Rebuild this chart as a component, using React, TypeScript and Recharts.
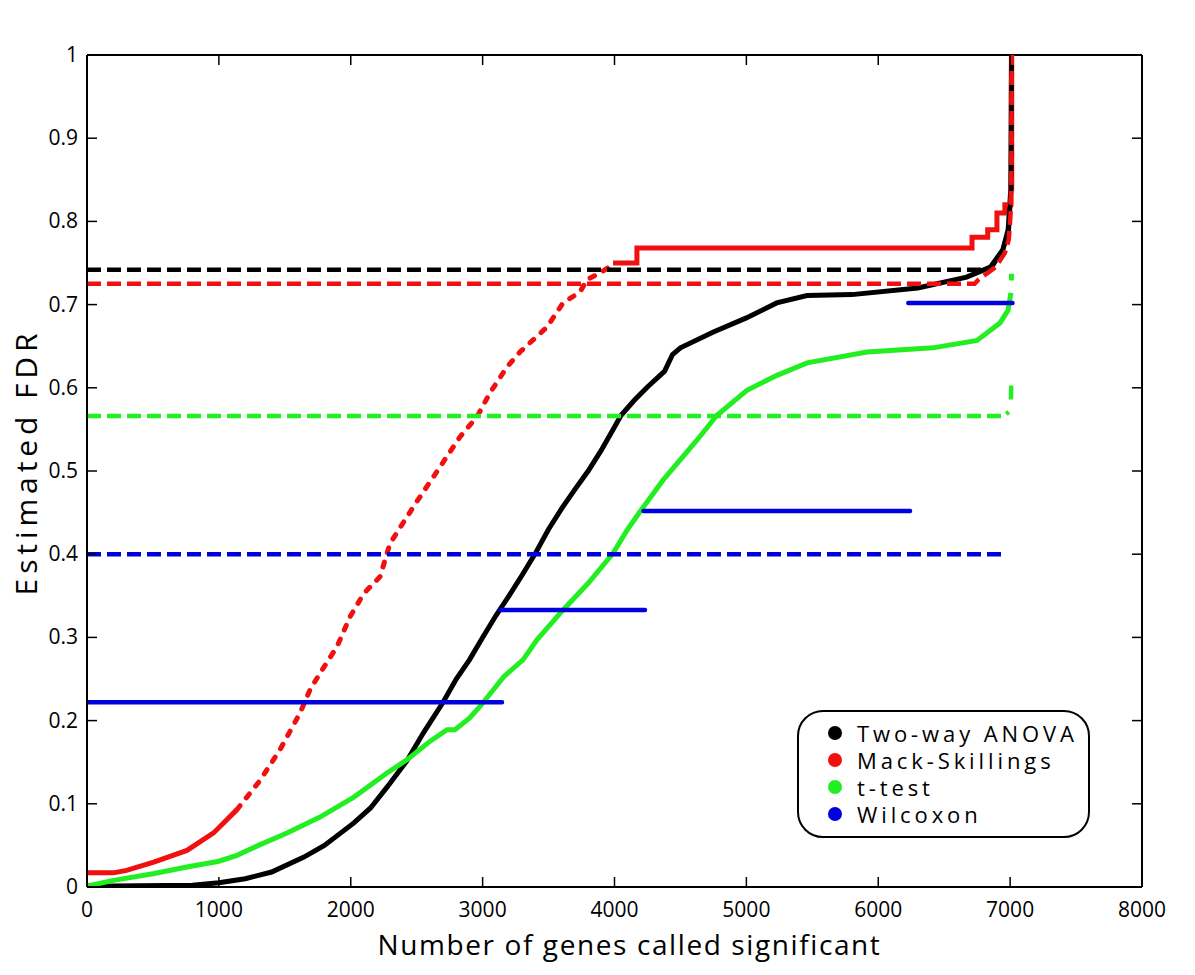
import React from 'react';
import { LineChart, Line, XAxis, YAxis, Label, ReferenceLine } from 'recharts';

const xTicks = [0, 1000, 2000, 3000, 4000, 5000, 6000, 7000, 8000];
const yTicks = [0, 0.1, 0.2, 0.3, 0.4, 0.5, 0.6, 0.7, 0.8, 0.9, 1];
const yTickLabels = ['0', '0.1', '0.2', '0.3', '0.4', '0.5', '0.6', '0.7', '0.8', '0.9', '1'];

const seriesNames = ['Two-way ANOVA', 'Mack-Skillings', 't-test', 'Wilcoxon'];
const seriesColors = ['#000000', '#f01010', '#22ee22', '#0000dd'];

const xLabel = 'Number of genes called significant';
const yLabel = 'Estimated FDR';

// Two-way ANOVA (solid estimate)
const anovaCurve = [
  { x: 0, y: 0.001 }, { x: 800, y: 0.002 }, { x: 1000, y: 0.005 }, { x: 1200, y: 0.01 },
  { x: 1400, y: 0.018 }, { x: 1645, y: 0.036 }, { x: 1800, y: 0.05 }, { x: 2024, y: 0.077 },
  { x: 2150, y: 0.095 }, { x: 2275, y: 0.12 }, { x: 2427, y: 0.152 }, { x: 2550, y: 0.185 },
  { x: 2700, y: 0.222 }, { x: 2800, y: 0.25 }, { x: 2900, y: 0.273 }, { x: 3000, y: 0.3 },
  { x: 3100, y: 0.326 }, { x: 3200, y: 0.35 }, { x: 3300, y: 0.375 }, { x: 3400, y: 0.401 },
  { x: 3500, y: 0.43 }, { x: 3600, y: 0.455 }, { x: 3700, y: 0.478 }, { x: 3800, y: 0.5 },
  { x: 3900, y: 0.525 }, { x: 4000, y: 0.553 }, { x: 4050, y: 0.567 }, { x: 4150, y: 0.585 },
  { x: 4250, y: 0.601 }, { x: 4380, y: 0.62 }, { x: 4440, y: 0.64 }, { x: 4500, y: 0.648 },
  { x: 4750, y: 0.667 }, { x: 5000, y: 0.684 }, { x: 5230, y: 0.702 }, { x: 5460, y: 0.711 },
  { x: 5800, y: 0.712 }, { x: 6300, y: 0.72 }, { x: 6670, y: 0.733 }, { x: 6850, y: 0.745 },
  { x: 6945, y: 0.766 }, { x: 6985, y: 0.79 }, { x: 7005, y: 0.838 }, { x: 7010, y: 1.0 },
];
const anovaDashed = [
  { x: 0, y: 0.742 }, { x: 6850, y: 0.742 }, { x: 6945, y: 0.766 }, { x: 6990, y: 0.79 },
  { x: 7008, y: 0.84 }, { x: 7012, y: 1.0 },
];

// Mack-Skillings
const mackLow = [
  { x: 0, y: 0.017 }, { x: 200, y: 0.017 }, { x: 300, y: 0.02 }, { x: 506, y: 0.03 },
  { x: 758, y: 0.044 }, { x: 960, y: 0.065 }, { x: 1137, y: 0.093 },
];
const mackRise = [
  { x: 1137, y: 0.093 }, { x: 1312, y: 0.128 }, { x: 1463, y: 0.165 }, { x: 1615, y: 0.209 },
  { x: 1691, y: 0.237 }, { x: 1767, y: 0.257 }, { x: 1896, y: 0.289 }, { x: 1995, y: 0.325 },
  { x: 2100, y: 0.353 }, { x: 2222, y: 0.373 }, { x: 2298, y: 0.413 }, { x: 2475, y: 0.457 },
  { x: 2677, y: 0.505 }, { x: 2828, y: 0.541 }, { x: 2957, y: 0.565 }, { x: 3056, y: 0.594 },
  { x: 3185, y: 0.625 }, { x: 3283, y: 0.643 }, { x: 3488, y: 0.673 }, { x: 3610, y: 0.702 },
  { x: 3738, y: 0.715 }, { x: 3791, y: 0.73 }, { x: 3867, y: 0.736 }, { x: 3989, y: 0.748 },
];
const mackSteps = [
  { x: 3989, y: 0.75 }, { x: 4170, y: 0.768 }, { x: 6711, y: 0.781 }, { x: 6830, y: 0.79 },
  { x: 6900, y: 0.81 }, { x: 6960, y: 0.82 }, { x: 7005, y: 0.84 }, { x: 7012, y: 1.0 },
];
const mackDashed = [
  { x: 0, y: 0.725 }, { x: 6730, y: 0.725 }, { x: 6760, y: 0.73 }, { x: 6890, y: 0.745 },
  { x: 6960, y: 0.762 }, { x: 6990, y: 0.778 }, { x: 7008, y: 0.82 }, { x: 7012, y: 1.0 },
];

// t-test
const tCurve = [
  { x: 0, y: 0.001 }, { x: 200, y: 0.008 }, { x: 500, y: 0.016 }, { x: 758, y: 0.024 },
  { x: 1000, y: 0.031 }, { x: 1137, y: 0.038 }, { x: 1300, y: 0.05 }, { x: 1517, y: 0.065 },
  { x: 1767, y: 0.084 }, { x: 2024, y: 0.108 }, { x: 2275, y: 0.137 }, { x: 2427, y: 0.153 },
  { x: 2600, y: 0.175 }, { x: 2730, y: 0.189 }, { x: 2790, y: 0.189 }, { x: 2900, y: 0.203 },
  { x: 2980, y: 0.217 }, { x: 3162, y: 0.253 }, { x: 3306, y: 0.273 }, { x: 3412, y: 0.297 },
  { x: 3610, y: 0.333 }, { x: 3800, y: 0.365 }, { x: 3989, y: 0.401 }, { x: 4100, y: 0.43 },
  { x: 4193, y: 0.451 }, { x: 4368, y: 0.489 }, { x: 4625, y: 0.537 }, { x: 4777, y: 0.567 },
  { x: 5004, y: 0.597 }, { x: 5156, y: 0.609 }, { x: 5232, y: 0.615 }, { x: 5460, y: 0.63 },
  { x: 5915, y: 0.643 }, { x: 6415, y: 0.648 }, { x: 6749, y: 0.657 }, { x: 6923, y: 0.678 },
  { x: 6984, y: 0.693 }, { x: 7006, y: 0.714 }, { x: 7006, y: null }, { x: 7010, y: 0.729 },
  { x: 7010, y: 0.737 },
];
const tDashed = [
  { x: 0, y: 0.566 }, { x: 6950, y: 0.566 }, { x: 6990, y: 0.571 }, { x: 6995, y: null },
  { x: 7006, y: 0.586 }, { x: 7008, y: 0.603 },
];

// Wilcoxon
const wilcoxSteps = [
  { x: 0, y: 0.222 }, { x: 3147, y: 0.222 }, { x: 3147, y: null },
  { x: 3135, y: 0.333 }, { x: 4231, y: 0.333 }, { x: 4231, y: null },
  { x: 4220, y: 0.452 }, { x: 6241, y: 0.452 }, { x: 6241, y: null },
  { x: 6228, y: 0.702 }, { x: 7018, y: 0.702 },
];
const wilcoxDashed = [{ x: 0, y: 0.4 }, { x: 6976, y: 0.4 }];

const FONT = '"Open Sans", "DejaVu Sans", sans-serif';
const PLOT_W = 1055;
const PLOT_H = 832;

const BottomTick = (props: any) => {
  const { x, y, payload, index } = props;
  const inner = index > 0 && index < xTicks.length - 1;
  return (
    <g>
      <line x1={x} y1={y} x2={x} y2={y - 10} stroke="#000" strokeWidth={1.5} />
      {inner && <line x1={x} y1={y - PLOT_H} x2={x} y2={y - PLOT_H + 10} stroke="#000" strokeWidth={1.5} />}
      <text x={x} y={y + 30} textAnchor="middle" fontSize={21} fontFamily={FONT} fill="#000">
        {payload.value}
      </text>
    </g>
  );
};
const LeftTick = (props: any) => {
  const { x, y, payload, index } = props;
  const inner = index > 0 && index < yTicks.length - 1;
  return (
    <g>
      <line x1={x} y1={y} x2={x + 10} y2={y} stroke="#000" strokeWidth={1.5} />
      {inner && <line x1={x + PLOT_W} y1={y} x2={x + PLOT_W - 10} y2={y} stroke="#000" strokeWidth={1.5} />}
      <text x={x - 9} y={y + 7} textAnchor="end" fontSize={21} fontFamily={FONT} fill="#000">
        {yTickLabels[index] ?? payload.value}
      </text>
    </g>
  );
};

const LegendBox = () => (
  <div
    style={{
      position: 'absolute',
      left: 789,
      top: 702,
      width: 289,
      height: 117,
      border: '2px solid #000',
      borderRadius: 26,
      background: '#fff',
      boxSizing: 'content-box',
      paddingTop: 7,
      fontFamily: FONT,
    }}
  >
    {seriesNames.map((n, i) => (
      <div key={n} style={{ display: 'flex', alignItems: 'center', height: 27 }}>
        <span
          style={{
            display: 'inline-block',
            width: 14,
            height: 14,
            borderRadius: 7,
            background: seriesColors[i],
            marginLeft: 29,
            marginRight: 15,
          }}
        />
        <span style={{ fontSize: 22, letterSpacing: 3.9, color: '#000', lineHeight: '26px', whiteSpace: 'nowrap' }}>{n}</span>
      </div>
    ))}
  </div>
);

export default function App() {
  const common = { dataKey: 'y', dot: false, activeDot: false, isAnimationActive: false, connectNulls: false, legendType: 'none' as const };
  return (
    <div style={{ position: 'relative', width: 1179, height: 960, background: '#fff' }}>
      <LineChart width={1179} height={960} margin={{ top: 47, right: 45, bottom: 0, left: 0 }}>
        <XAxis
          dataKey="x"
          type="number"
          domain={[0, 8000]}
          ticks={xTicks}
          interval={0}
          allowDataOverflow
          height={81}
          tickSize={0}
          tickMargin={0}
          tick={<BottomTick />}
          axisLine={{ stroke: '#000', strokeWidth: 2 }}
          tickLine={false}
        >
          <Label
            content={(p: any) => {
              const vb = p.viewBox || { x: 79, y: 879, width: 1055 };
              return (
                <text x={vb.x + vb.width / 2 + 15} y={vb.y + 68} textAnchor="middle" fontSize={28} fontFamily={FONT} fill="#000" letterSpacing={1.6}>
                  {xLabel}
                </text>
              );
            }}
          />
        </XAxis>
        <YAxis
          type="number"
          domain={[0, 1]}
          ticks={yTicks}
          interval={0}
          allowDataOverflow
          width={79}
          tickSize={0}
          tickMargin={0}
          tick={<LeftTick />}
          axisLine={{ stroke: '#000', strokeWidth: 2 }}
          tickLine={false}
        >
          <Label
            content={(p: any) => {
              const vb = p.viewBox || { x: 0, y: 47, width: 79, height: 832 };
              const cx = 29;
              const cy = vb.y + vb.height / 2 - 9;
              return (
                <text x={cx} y={cy} transform={`rotate(-90 ${cx} ${cy})`} textAnchor="middle" fontSize={30} fontFamily={FONT} fill="#000" letterSpacing={4.9}>
                  {yLabel}
                </text>
              );
            }}
          />
        </YAxis>
        <ReferenceLine y={1} stroke="#000" strokeWidth={2} ifOverflow="visible" />
        <ReferenceLine x={8000} stroke="#000" strokeWidth={2} ifOverflow="visible" />

        <Line {...common} data={anovaCurve} stroke={seriesColors[0]} strokeWidth={5} />
        <Line {...common} data={tCurve} stroke={seriesColors[2]} strokeWidth={5} />
        <Line {...common} data={mackLow} stroke={seriesColors[1]} strokeWidth={5} />
        <Line {...common} data={mackRise} stroke={seriesColors[1]} strokeWidth={5} strokeDasharray="5 10" strokeLinecap="round" />
        <Line {...common} data={mackSteps} type="stepAfter" stroke={seriesColors[1]} strokeWidth={5} />
        <Line {...common} data={anovaDashed} stroke={seriesColors[0]} strokeWidth={4.5} strokeDasharray="14 6" />
        <Line {...common} data={mackDashed} stroke={seriesColors[1]} strokeWidth={4.5} strokeDasharray="14 6" />
        <Line {...common} data={tDashed} stroke={seriesColors[2]} strokeWidth={4.5} strokeDasharray="14 6" />
        <Line {...common} data={wilcoxDashed} stroke={seriesColors[3]} strokeWidth={4.5} strokeDasharray="14 6" />
        <Line {...common} data={wilcoxSteps} stroke={seriesColors[3]} strokeWidth={4.5} strokeLinecap="round" />
      </LineChart>
      <LegendBox />
    </div>
  );
}
